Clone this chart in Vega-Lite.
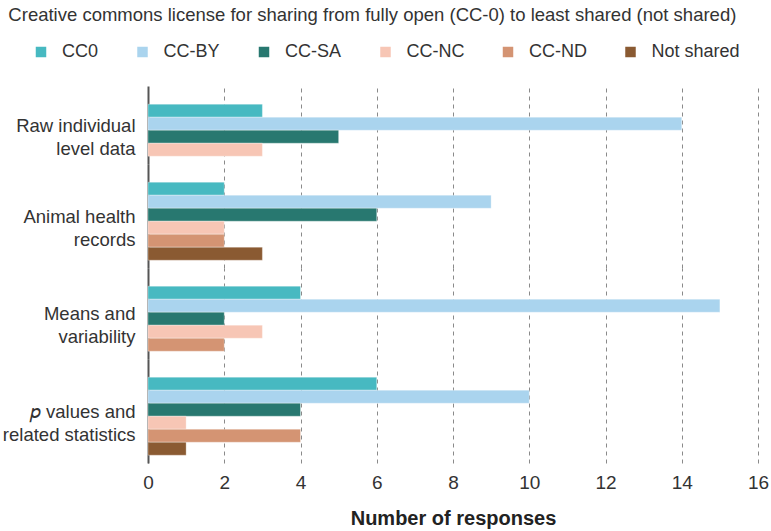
{
  "$schema": "https://vega.github.io/schema/vega-lite/v6.json",
  "padding": {"left": 2, "right": 0, "top": 5, "bottom": 5},
  "title": {
    "text": "Creative commons license for sharing from fully open (CC-0) to least shared (not shared)",
    "anchor": "start",
    "frame": "bounds",
    "dx": 6,
    "fontSize": 18.5,
    "fontWeight": "normal",
    "color": "#333333",
    "offset": 19
  },
  "data": {
    "values": [
      {"category": "Raw", "license": "CC0", "responses": 3},
      {"category": "Raw", "license": "CC-BY", "responses": 14},
      {"category": "Raw", "license": "CC-SA", "responses": 5},
      {"category": "Raw", "license": "CC-NC", "responses": 3},
      {"category": "Raw", "license": "CC-ND", "responses": 0},
      {"category": "Raw", "license": "Not shared", "responses": 0},
      {"category": "Animal", "license": "CC0", "responses": 2},
      {"category": "Animal", "license": "CC-BY", "responses": 9},
      {"category": "Animal", "license": "CC-SA", "responses": 6},
      {"category": "Animal", "license": "CC-NC", "responses": 2},
      {"category": "Animal", "license": "CC-ND", "responses": 2},
      {"category": "Animal", "license": "Not shared", "responses": 3},
      {"category": "Means", "license": "CC0", "responses": 4},
      {"category": "Means", "license": "CC-BY", "responses": 15},
      {"category": "Means", "license": "CC-SA", "responses": 2},
      {"category": "Means", "license": "CC-NC", "responses": 3},
      {"category": "Means", "license": "CC-ND", "responses": 2},
      {"category": "Means", "license": "Not shared", "responses": 0},
      {"category": "P", "license": "CC0", "responses": 6},
      {"category": "P", "license": "CC-BY", "responses": 10},
      {"category": "P", "license": "CC-SA", "responses": 4},
      {"category": "P", "license": "CC-NC", "responses": 1},
      {"category": "P", "license": "CC-ND", "responses": 4},
      {"category": "P", "license": "Not shared", "responses": 1}
    ]
  },
  "spacing": 0,
  "vconcat": [
    {
      "transform": [{"filter": "datum.category == 'Raw' && datum.responses > 0"}],
      "width": 610,
      "height": {"step": 13},
      "mark": {"type": "bar", "stroke": "white", "strokeWidth": 0.5, "strokeOpacity": 0.6},
      "encoding": {
        "x": {"field": "responses", "type": "quantitative", "scale": {"domain": [0, 16]},
              "axis": {"values": [0, 2, 4, 6, 8, 10, 12, 14, 16], "labels": false, "title": null}},
        "y": {"field": "license", "type": "nominal", "sort": ["CC0", "CC-BY", "CC-SA", "CC-NC", "CC-ND", "Not shared"],
              "scale": {"paddingInner": 0, "paddingOuter": 1, "align": 0.7},
              "axis": {"title": ["Raw individual", "level data"]}},
        "color": {"field": "license", "type": "nominal",
                  "scale": {"domain": ["CC0", "CC-BY", "CC-SA", "CC-NC", "CC-ND", "Not shared"],
                            "range": ["#47b9c1", "#aad4ee", "#287870", "#f7c6b5", "#d49473", "#8a5a32"]},
                  "legend": {"title": null, "orient": "none", "direction": "horizontal", "legendX": -116, "legendY": -43}}
      }
    },
    {
      "transform": [{"filter": "datum.category == 'Animal' && datum.responses > 0"}],
      "width": 610,
      "height": {"step": 13},
      "mark": {"type": "bar", "stroke": "white", "strokeWidth": 0.5, "strokeOpacity": 0.6},
      "encoding": {
        "x": {"field": "responses", "type": "quantitative", "scale": {"domain": [0, 16]},
              "axis": {"values": [0, 2, 4, 6, 8, 10, 12, 14, 16], "labels": false, "title": null}},
        "y": {"field": "license", "type": "nominal", "sort": ["CC0", "CC-BY", "CC-SA", "CC-NC", "CC-ND", "Not shared"],
              "scale": {"paddingInner": 0, "paddingOuter": 1, "align": 0.7},
              "axis": {"title": ["Animal health", "records"]}},
        "color": {"field": "license", "type": "nominal",
                  "scale": {"domain": ["CC0", "CC-BY", "CC-SA", "CC-NC", "CC-ND", "Not shared"],
                            "range": ["#47b9c1", "#aad4ee", "#287870", "#f7c6b5", "#d49473", "#8a5a32"]},
                  "legend": {"title": null, "orient": "none", "direction": "horizontal", "legendX": -116, "legendY": -43}}
      }
    },
    {
      "transform": [{"filter": "datum.category == 'Means' && datum.responses > 0"}],
      "width": 610,
      "height": {"step": 13},
      "mark": {"type": "bar", "stroke": "white", "strokeWidth": 0.5, "strokeOpacity": 0.6},
      "encoding": {
        "x": {"field": "responses", "type": "quantitative", "scale": {"domain": [0, 16]},
              "axis": {"values": [0, 2, 4, 6, 8, 10, 12, 14, 16], "labels": false, "title": null}},
        "y": {"field": "license", "type": "nominal", "sort": ["CC0", "CC-BY", "CC-SA", "CC-NC", "CC-ND", "Not shared"],
              "scale": {"paddingInner": 0, "paddingOuter": 1, "align": 0.7},
              "axis": {"title": ["Means and", "variability"]}},
        "color": {"field": "license", "type": "nominal",
                  "scale": {"domain": ["CC0", "CC-BY", "CC-SA", "CC-NC", "CC-ND", "Not shared"],
                            "range": ["#47b9c1", "#aad4ee", "#287870", "#f7c6b5", "#d49473", "#8a5a32"]},
                  "legend": {"title": null, "orient": "none", "direction": "horizontal", "legendX": -116, "legendY": -43}}
      }
    },
    {
      "transform": [{"filter": "datum.category == 'P' && datum.responses > 0"}],
      "width": 610,
      "height": {"step": 13},
      "mark": {"type": "bar", "stroke": "white", "strokeWidth": 0.5, "strokeOpacity": 0.6},
      "encoding": {
        "x": {"field": "responses", "type": "quantitative", "scale": {"domain": [0, 16]},
              "axis": {"values": [0, 2, 4, 6, 8, 10, 12, 14, 16], "title": "Number of responses"}},
        "y": {"field": "license", "type": "nominal", "sort": ["CC0", "CC-BY", "CC-SA", "CC-NC", "CC-ND", "Not shared"],
              "scale": {"paddingInner": 0, "paddingOuter": 1, "align": 0.7},
              "axis": {"title": ["𝑝 values and", "related statistics"]}},
        "color": {"field": "license", "type": "nominal",
                  "scale": {"domain": ["CC0", "CC-BY", "CC-SA", "CC-NC", "CC-ND", "Not shared"],
                            "range": ["#47b9c1", "#aad4ee", "#287870", "#f7c6b5", "#d49473", "#8a5a32"]},
                  "legend": {"title": null, "orient": "none", "direction": "horizontal", "legendX": -116, "legendY": -43}}
      }
    }
  ],
  "config": {
    "font": "Liberation Sans",
    "view": {"stroke": null},
    "axisX": {
      "domain": false,
      "ticks": false,
      "grid": true,
      "gridDash": [4, 4],
      "gridColor": "#8a8a8a",
      "gridWidth": 1,
      "labelFontSize": 19,
      "labelColor": "#333333",
      "labelPadding": 10,
      "labelFlush": false,
      "titleFontSize": 20,
      "titleFontWeight": "bold",
      "titleColor": "#222222",
      "titlePadding": 16
    },
    "axisY": {
      "labels": false,
      "ticks": false,
      "grid": false,
      "minExtent": 0,
      "domainColor": "#555555",
      "domainWidth": 2,
      "titleAngle": 0,
      "titleAlign": "right",
      "titleBaseline": "middle",
      "titleX": -13,
      "titleFontSize": 18.5,
      "titleFontWeight": "normal",
      "titleColor": "#333333",
      "titleLineHeight": 23
    },
    "legend": {
      "symbolType": "square",
      "symbolSize": 110,
      "symbolStrokeWidth": 0,
      "labelFontSize": 18,
      "labelColor": "#333333",
      "labelOffset": 12,
      "columnPadding": 34.5
    }
  }
}
